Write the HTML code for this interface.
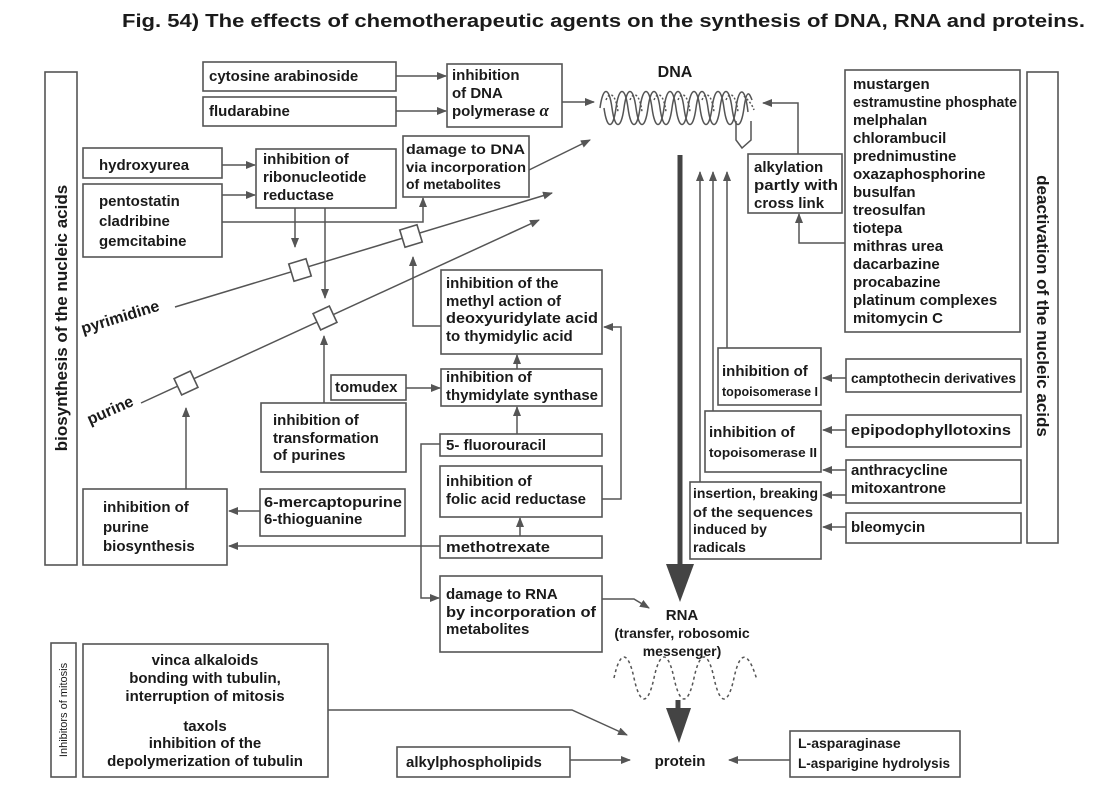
<!DOCTYPE html>
<html><head><meta charset="utf-8"><style>
html,body{margin:0;padding:0;background:#fff;}
svg{display:block;}
.b{fill:#fff;stroke:#555;stroke-width:1.6;}
.l{fill:none;stroke:#555;stroke-width:1.5;}
</style></head><body>
<svg width="1100" height="800" viewBox="0 0 1100 800" xmlns="http://www.w3.org/2000/svg" font-family="Liberation Sans, sans-serif" font-weight="bold" font-size="15" fill="#1a1a1a">
<defs>
<marker id="a" markerWidth="10" markerHeight="8" refX="9" refY="4" orient="auto" markerUnits="userSpaceOnUse">
<path d="M0,0 L10,4 L0,8 z" fill="#555"/></marker>
</defs>

<text x="122" y="27" font-size="18" textLength="963" lengthAdjust="spacingAndGlyphs">Fig. 54)  The effects of chemotherapeutic agents on the synthesis of  DNA, RNA and proteins.</text>

<!-- side labels -->
<rect class="b" x="45" y="72" width="32" height="493"/>
<text transform="translate(67,318) rotate(-90)" text-anchor="middle" font-size="17">biosynthesis of the nucleic acids</text>
<rect class="b" x="1027" y="72" width="31" height="471"/>
<text transform="translate(1037,306) rotate(90)" text-anchor="middle" font-size="17">deactivation of the nucleic acids</text>
<rect class="b" x="51" y="643" width="25" height="134"/>
<text transform="translate(67,710) rotate(-90)" text-anchor="middle" font-size="11" font-weight="normal">Inhibitors of mitosis</text>

<!-- top left boxes -->
<rect class="b" x="203" y="62" width="193" height="29"/><text x="209" y="81">cytosine arabinoside</text>
<rect class="b" x="203" y="97" width="193" height="29"/><text x="209" y="116">fludarabine</text>
<rect class="b" x="447" y="64" width="115" height="63"/>
<text x="452" y="80">inhibition</text><text x="452" y="98">of DNA</text><text x="452" y="116">polymerase <tspan font-style="italic" font-family="Liberation Serif, serif" font-size="17">α</tspan></text>
<path class="l" d="M396,76 H446" marker-end="url(#a)"/>
<path class="l" d="M396,111 H446" marker-end="url(#a)"/>
<path class="l" d="M562,102 H594" marker-end="url(#a)"/>

<rect class="b" x="83" y="148" width="139" height="30"/><text x="99" y="170">hydroxyurea</text>
<rect class="b" x="83" y="184" width="139" height="73"/>
<text x="99" y="206">pentostatin</text><text x="99" y="226">cladribine</text><text x="99" y="246">gemcitabine</text>
<rect class="b" x="256" y="149" width="140" height="59"/>
<text x="263" y="164">inhibition of</text><text x="263" y="182">ribonucleotide</text><text x="263" y="200">reductase</text>
<rect class="b" x="403" y="136" width="126" height="61"/>
<text x="406" y="154" font-size="14" textLength="119" lengthAdjust="spacingAndGlyphs">damage to DNA</text><text x="406" y="172" font-size="14" textLength="120" lengthAdjust="spacingAndGlyphs">via incorporation</text><text x="406" y="189" font-size="14">of metabolites</text>
<path class="l" d="M222,165 H255" marker-end="url(#a)"/>
<path class="l" d="M222,195 H255" marker-end="url(#a)"/>
<path class="l" d="M222,222 H423 V198" marker-end="url(#a)"/>
<path class="l" d="M295,208 V247" marker-end="url(#a)"/>
<path class="l" d="M325,208 V298" marker-end="url(#a)"/>
<path class="l" d="M529,170 L590,140" marker-end="url(#a)"/>

<!-- pyrimidine / purine lines -->
<path class="l" d="M175,307 L552,193" marker-end="url(#a)"/>
<path class="l" d="M141,403 L539,220" marker-end="url(#a)"/>
<text transform="translate(83,334) rotate(-17)" font-size="16">pyrimidine</text>
<text transform="translate(90,425) rotate(-24)" font-size="16">purine</text>
<rect class="b" x="-9" y="-9" width="18" height="18" transform="translate(300,270) rotate(-17)"/>
<rect class="b" x="-9" y="-9" width="18" height="18" transform="translate(411,236) rotate(-17)"/>
<rect class="b" x="-9" y="-9" width="18" height="18" transform="translate(325,318) rotate(-25)"/>
<rect class="b" x="-9" y="-9" width="18" height="18" transform="translate(186,383) rotate(-25)"/>

<!-- DNA helix -->
<text x="675" y="77" text-anchor="middle" font-size="16">DNA</text>
<path class="l" stroke-width="2" d="M600,108 C603,86 609,86 612,108 S621,130 624,108 S633,86 636,108 S645,130 648,108 S657,86 660,108 S669,130 672,108 S681,86 684,108 S693,130 696,108 S705,86 708,108 S717,130 720,108 S729,86 732,108 S741,130 744,108 S750,95 752,100"/>
<path class="l" stroke-width="2" d="M604,108 C607,130 613,130 616,108 S625,86 628,108 S637,130 640,108 S649,86 652,108 S661,130 664,108 S673,86 676,108 S685,130 688,108 S697,86 700,108 S709,130 712,108 S721,86 724,108 S733,130 736,108 S745,86 748,112"/>
<path class="l" stroke-dasharray="2,2" d="M606,100 C610,90 616,95 618,112 M630,100 C634,90 640,95 642,112 M654,100 C658,90 664,95 666,112 M678,100 C682,90 688,95 690,112 M702,100 C706,90 712,95 714,112 M726,100 C730,90 736,95 738,112 M744,96 C748,100 752,104 754,110"/>
<path class="l" d="M736,121 V140 L742,148 L751,140 V121"/>

<!-- right side -->
<rect class="b" x="748" y="154" width="94" height="59"/>
<text x="754" y="172">alkylation</text><text x="754" y="190" textLength="84" lengthAdjust="spacingAndGlyphs">partly with</text><text x="754" y="208">cross link</text>
<path class="l" d="M798,154 V103 H763" marker-end="url(#a)"/>
<rect class="b" x="845" y="70" width="175" height="262"/>
<text x="853" y="89">mustargen</text>
<text x="853" y="107" textLength="164" lengthAdjust="spacingAndGlyphs">estramustine phosphate</text>
<text x="853" y="125">melphalan</text>
<text x="853" y="143">chlorambucil</text>
<text x="853" y="161">prednimustine</text>
<text x="853" y="179">oxazaphosphorine</text>
<text x="853" y="197">busulfan</text>
<text x="853" y="215">treosulfan</text>
<text x="853" y="233">tiotepa</text>
<text x="853" y="251">mithras urea</text>
<text x="853" y="269">dacarbazine</text>
<text x="853" y="287">procabazine</text>
<text x="853" y="305">platinum complexes</text>
<text x="853" y="323">mitomycin C</text>
<path class="l" d="M845,243 H799 V214" marker-end="url(#a)"/>

<!-- thick DNA->RNA arrow -->
<path d="M680,155 V566" stroke="#444" stroke-width="5"/>
<path d="M666,564 L694,564 L680,602 z" fill="#444"/>
<path class="l" d="M700,482 V172" marker-end="url(#a)"/>
<path class="l" d="M713,411 V172" marker-end="url(#a)"/>
<path class="l" d="M727,348 V172" marker-end="url(#a)"/>

<rect class="b" x="718" y="348" width="103" height="57"/>
<text x="722" y="376">inhibition of</text><text x="722" y="396" font-size="13" textLength="96" lengthAdjust="spacingAndGlyphs">topoisomerase I</text>
<rect class="b" x="846" y="359" width="175" height="33"/><text x="851" y="383" font-size="14" textLength="165" lengthAdjust="spacingAndGlyphs">camptothecin derivatives</text>
<path class="l" d="M846,378 H823" marker-end="url(#a)"/>
<rect class="b" x="705" y="411" width="116" height="61"/>
<text x="709" y="437">inhibition of</text><text x="709" y="457" font-size="13" textLength="108" lengthAdjust="spacingAndGlyphs">topoisomerase II</text>
<rect class="b" x="846" y="415" width="175" height="32"/><text x="851" y="435" textLength="160" lengthAdjust="spacingAndGlyphs">epipodophyllotoxins</text>
<path class="l" d="M846,430 H823" marker-end="url(#a)"/>
<rect class="b" x="846" y="460" width="175" height="43"/>
<text x="851" y="475">anthracycline</text><text x="851" y="493">mitoxantrone</text>
<path class="l" d="M846,470 H823" marker-end="url(#a)"/>
<path class="l" d="M846,495 H823" marker-end="url(#a)"/>
<rect class="b" x="690" y="482" width="131" height="77"/>
<text x="693" y="498" font-size="14" textLength="125" lengthAdjust="spacingAndGlyphs">insertion, breaking</text><text x="693" y="517" font-size="14" textLength="120" lengthAdjust="spacingAndGlyphs">of the sequences</text><text x="693" y="534" font-size="14">induced by</text><text x="693" y="552" font-size="14">radicals</text>
<rect class="b" x="846" y="513" width="175" height="30"/><text x="851" y="532">bleomycin</text>
<path class="l" d="M846,527 H823" marker-end="url(#a)"/>

<!-- middle column -->
<rect class="b" x="441" y="270" width="161" height="84"/>
<text x="446" y="288">inhibition of the</text><text x="446" y="306">methyl action of</text><text x="446" y="323" textLength="152" lengthAdjust="spacingAndGlyphs">deoxyuridylate acid</text><text x="446" y="341">to thymidylic acid</text>
<path class="l" d="M441,326 H413 V257" marker-end="url(#a)"/>
<rect class="b" x="441" y="369" width="161" height="37"/>
<text x="446" y="382">inhibition of</text><text x="446" y="400" textLength="152" lengthAdjust="spacingAndGlyphs">thymidylate synthase</text>
<path class="l" d="M517,369 V355" marker-end="url(#a)"/>
<rect class="b" x="331" y="375" width="75" height="25"/><text x="335" y="392">tomudex</text>
<path class="l" d="M406,388 H440" marker-end="url(#a)"/>
<rect class="b" x="261" y="403" width="145" height="69"/>
<text x="273" y="425">inhibition of</text><text x="273" y="443">transformation</text><text x="273" y="460">of purines</text>
<path class="l" d="M324,403 V336" marker-end="url(#a)"/>

<rect class="b" x="440" y="434" width="162" height="22"/><text x="446" y="450" textLength="100" lengthAdjust="spacingAndGlyphs">5- fluorouracil</text>
<path class="l" d="M517,434 V407" marker-end="url(#a)"/>
<rect class="b" x="440" y="466" width="162" height="51"/>
<text x="446" y="486">inhibition of</text><text x="446" y="504" textLength="140" lengthAdjust="spacingAndGlyphs">folic acid reductase</text>
<path class="l" d="M602,499 H621 V327 H604" marker-end="url(#a)"/>
<rect class="b" x="440" y="536" width="162" height="22"/><text x="446" y="552" textLength="104" lengthAdjust="spacingAndGlyphs">methotrexate</text>
<path class="l" d="M520,536 V518" marker-end="url(#a)"/>
<path class="l" d="M440,444 H421 V598 H439" marker-end="url(#a)"/>
<rect class="b" x="440" y="576" width="162" height="76"/>
<text x="446" y="599">damage to RNA</text><text x="446" y="617" textLength="150" lengthAdjust="spacingAndGlyphs">by incorporation of</text><text x="446" y="634">metabolites</text>
<path class="l" d="M602,599 H634 L649,608" marker-end="url(#a)"/>

<rect class="b" x="83" y="489" width="144" height="76"/>
<text x="103" y="512">inhibition of</text><text x="103" y="532">purine</text><text x="103" y="551">biosynthesis</text>
<path class="l" d="M186,489 V408" marker-end="url(#a)"/>
<rect class="b" x="260" y="489" width="145" height="47"/>
<text x="264" y="507" textLength="138" lengthAdjust="spacingAndGlyphs">6-mercaptopurine</text><text x="264" y="524">6-thioguanine</text>
<path class="l" d="M260,511 H229" marker-end="url(#a)"/>
<path class="l" d="M440,546 H229" marker-end="url(#a)"/>

<!-- RNA & protein -->
<text x="682" y="620" text-anchor="middle">RNA</text>
<text x="682" y="638" text-anchor="middle" font-size="14">(transfer, robosomic</text>
<text x="682" y="656" text-anchor="middle" font-size="14">messenger)</text>
<path class="l" stroke-dasharray="3,3" d="M614,678 C620,650 628,650 634,678 S648,706 654,678 S668,650 674,678 S688,706 694,678 S708,650 714,678 S728,706 734,678 S748,650 757,680"/>
<path d="M678,700 V712" stroke="#444" stroke-width="5"/>
<path d="M666,708 L691,708 L679,743 z" fill="#444"/>
<text x="680" y="766" text-anchor="middle">protein</text>

<rect class="b" x="83" y="644" width="245" height="133"/>
<g text-anchor="middle">
<text x="205" y="665">vinca alkaloids</text><text x="205" y="683">bonding with tubulin,</text><text x="205" y="701">interruption of mitosis</text>
<text x="205" y="731">taxols</text><text x="205" y="748">inhibition of the</text><text x="205" y="766">depolymerization of tubulin</text>
</g>
<path class="l" d="M328,710 H572 L627,735" marker-end="url(#a)"/>
<rect class="b" x="397" y="747" width="173" height="30"/><text x="406" y="767">alkylphospholipids</text>
<path class="l" d="M570,760 H630" marker-end="url(#a)"/>
<rect class="b" x="790" y="731" width="170" height="46"/>
<text x="798" y="748" font-size="14">L-asparaginase</text><text x="798" y="768" font-size="14" textLength="152" lengthAdjust="spacingAndGlyphs">L-asparigine hydrolysis</text>
<path class="l" d="M790,760 H729" marker-end="url(#a)"/>
</svg>
</body></html>
